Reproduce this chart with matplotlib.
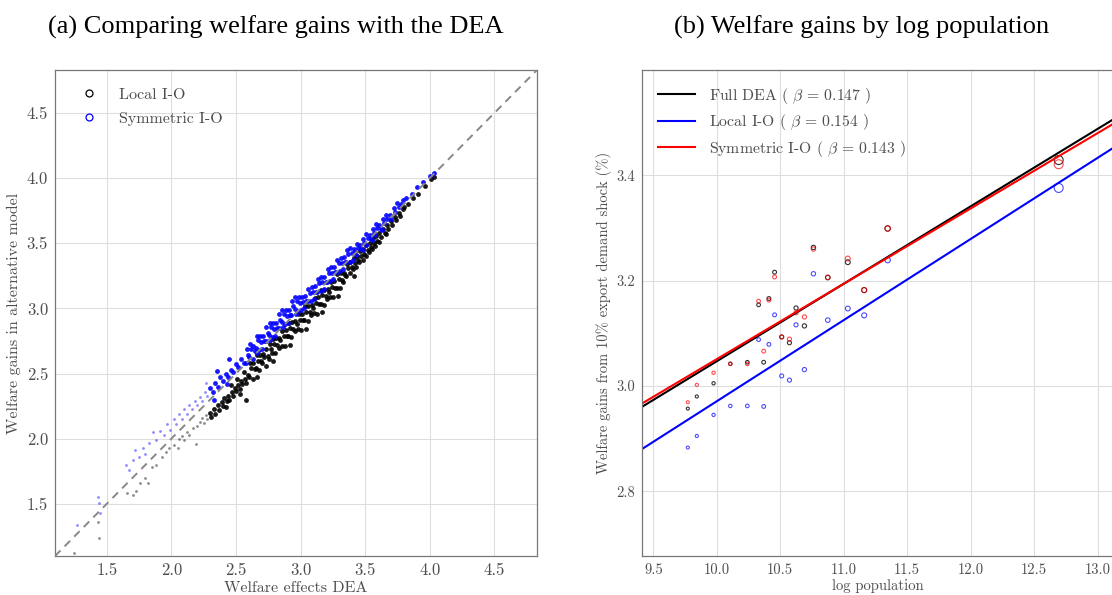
import matplotlib
matplotlib.use('Agg')
import matplotlib.pyplot as plt
import numpy as np
from matplotlib.lines import Line2D

# ---- data: panel (a), welfare gains per location (DEA vs alternative model)
local_pts = [
    (1.25, 1.12), (1.43, 1.36), (1.44, 1.24), (1.66, 1.58), (1.70, 1.57), (1.73, 1.60),
    (1.76, 1.66), (1.80, 1.70), (1.82, 1.66), (1.85, 1.78), (1.88, 1.80), (1.93, 1.86),
    (1.96, 1.90), (1.98, 1.93), (2.02, 1.95), (2.05, 1.93), (2.06, 2.00), (2.08, 2.02),
    (2.10, 1.99), (2.12, 2.05), (2.14, 2.03), (2.17, 2.08), (2.19, 1.96), (2.20, 2.10),
    (2.22, 2.13), (2.24, 2.16), (2.25, 2.12), (2.27, 2.18), (2.28, 2.15), (2.30, 2.20),
    (2.31, 2.17), (2.33, 2.23), (2.34, 2.19), (2.36, 2.26), (2.37, 2.22), (2.39, 2.28),
    (2.40, 2.25), (2.41, 2.31), (2.43, 2.29), (2.44, 2.33), (2.45, 2.30), (2.47, 2.36),
    (2.48, 2.33), (2.49, 2.39), (2.50, 2.37), (2.52, 2.41), (2.53, 2.38), (2.54, 2.44),
    (2.55, 2.42), (2.57, 2.46), (2.58, 2.43), (2.59, 2.49), (2.46, 2.41), (2.51, 2.46),
    (2.56, 2.51), (2.53, 2.34), (2.42, 2.24), (2.58, 2.30),
    (2.61, 2.58), (2.62, 2.54), (2.605, 2.47),
    (2.635, 2.585), (2.645, 2.535), (2.63, 2.46),
    (2.66, 2.64), (2.67, 2.60), (2.655, 2.54), (2.665, 2.47),
    (2.685, 2.645), (2.695, 2.595), (2.68, 2.53),
    (2.71, 2.65), (2.72, 2.63), (2.705, 2.58),
    (2.735, 2.685), (2.745, 2.635), (2.73, 2.56),
    (2.76, 2.73), (2.77, 2.69), (2.755, 2.615),
    (2.785, 2.765), (2.795, 2.725), (2.78, 2.66), (2.79, 2.60),
    (2.81, 2.77), (2.82, 2.72), (2.805, 2.655),
    (2.835, 2.775), (2.845, 2.755), (2.83, 2.70),
    (2.86, 2.83), (2.87, 2.79), (2.855, 2.715),
    (2.885, 2.835), (2.895, 2.785), (2.88, 2.71),
    (2.91, 2.89), (2.92, 2.85), (2.905, 2.785), (2.915, 2.72),
    (2.935, 2.895), (2.945, 2.845), (2.93, 2.78),
    (2.96, 2.90), (2.97, 2.88), (2.955, 2.825),
    (2.985, 2.955), (2.995, 2.915), (2.98, 2.84),
    (3.01, 2.96), (3.02, 2.91), (3.005, 2.835),
    (3.035, 3.015), (3.045, 2.975), (3.03, 2.91), (3.04, 2.845),
    (3.06, 3.02), (3.07, 2.97), (3.055, 2.905),
    (3.085, 3.025), (3.095, 3.005), (3.08, 2.95),
    (3.11, 3.08), (3.12, 3.04), (3.105, 2.965),
    (3.135, 3.085), (3.145, 3.035), (3.13, 2.96),
    (3.16, 3.14), (3.17, 3.10), (3.155, 3.035), (3.165, 2.97),
    (3.185, 3.145), (3.195, 3.095), (3.18, 3.03),
    (3.21, 3.15), (3.22, 3.13), (3.205, 3.075),
    (3.235, 3.205), (3.245, 3.165), (3.23, 3.09),
    (3.26, 3.21), (3.27, 3.16), (3.255, 3.085),
    (3.285, 3.265), (3.295, 3.225), (3.28, 3.16), (3.29, 3.095),
    (3.31, 3.27), (3.32, 3.22), (3.305, 3.155),
    (3.335, 3.275), (3.345, 3.255), (3.33, 3.20),
    (3.36, 3.34), (3.37, 3.31), (3.355, 3.25),
    (3.385, 3.355), (3.395, 3.32), (3.38, 3.27),
    (3.41, 3.39), (3.42, 3.35), (3.405, 3.30), (3.415, 3.25),
    (3.435, 3.40), (3.445, 3.37), (3.43, 3.32),
    (3.46, 3.44), (3.47, 3.40), (3.455, 3.36),
    (3.485, 3.455), (3.495, 3.42), (3.48, 3.37),
    (3.51, 3.49), (3.52, 3.45), (3.505, 3.40),
    (3.535, 3.505), (3.545, 3.47), (3.53, 3.43),
    (3.56, 3.54), (3.57, 3.50), (3.555, 3.46),
    (3.585, 3.555), (3.595, 3.52), (3.58, 3.48),
    (3.61, 3.58), (3.62, 3.55), (3.605, 3.51),
    (3.64, 3.61), (3.65, 3.58),
    (3.67, 3.64), (3.68, 3.61), (3.665, 3.57),
    (3.70, 3.67), (3.71, 3.64), (3.73, 3.70), (3.74, 3.68),
    (3.76, 3.73), (3.77, 3.71), (3.79, 3.76), (3.80, 3.78),
    (3.83, 3.80), (3.87, 3.85), (3.91, 3.88), (3.96, 3.94),
    (4.01, 3.99), (4.03, 4.01),
]

sym_pts = [
    (1.27, 1.34), (1.43, 1.55), (1.44, 1.51), (1.45, 1.43), (1.65, 1.80), (1.67, 1.76),
    (1.70, 1.84), (1.72, 1.91), (1.75, 1.86), (1.78, 1.93), (1.80, 1.88), (1.83, 1.97),
    (1.86, 2.05), (1.88, 1.99), (1.91, 2.06), (1.94, 2.03), (1.97, 2.11), (1.99, 2.07),
    (2.02, 2.15), (2.04, 2.11), (2.06, 2.19), (2.08, 2.15), (2.10, 2.23), (2.12, 2.19),
    (2.14, 2.26), (2.16, 2.23), (2.18, 2.29), (2.20, 2.26), (2.22, 2.32), (2.24, 2.29),
    (2.26, 2.36), (2.28, 2.33), (2.30, 2.39), (2.32, 2.36), (2.34, 2.43), (2.36, 2.40),
    (2.38, 2.47), (2.40, 2.44), (2.42, 2.50), (2.44, 2.47), (2.46, 2.53), (2.48, 2.51),
    (2.50, 2.57), (2.52, 2.55), (2.54, 2.61), (2.56, 2.58), (2.27, 2.43), (2.35, 2.52),
    (2.45, 2.61), (2.33, 2.30), (2.43, 2.42),
    (2.585, 2.685), (2.595, 2.645), (2.58, 2.58),
    (2.61, 2.73), (2.62, 2.69), (2.605, 2.625),
    (2.635, 2.715), (2.645, 2.675), (2.63, 2.61),
    (2.66, 2.79), (2.67, 2.76), (2.655, 2.695), (2.665, 2.655),
    (2.685, 2.785), (2.695, 2.745), (2.68, 2.68),
    (2.71, 2.79), (2.72, 2.75), (2.705, 2.685),
    (2.735, 2.855), (2.745, 2.815), (2.73, 2.75),
    (2.76, 2.89), (2.77, 2.86), (2.755, 2.795), (2.765, 2.755),
    (2.785, 2.885), (2.795, 2.845), (2.78, 2.78),
    (2.81, 2.89), (2.82, 2.85), (2.805, 2.785),
    (2.835, 2.955), (2.845, 2.915), (2.83, 2.85),
    (2.86, 2.99), (2.87, 2.96), (2.855, 2.895), (2.865, 2.855),
    (2.885, 2.985), (2.895, 2.945), (2.88, 2.88),
    (2.91, 2.99), (2.92, 2.95), (2.905, 2.885),
    (2.935, 3.055), (2.945, 3.015), (2.93, 2.95),
    (2.96, 3.09), (2.97, 3.06), (2.955, 2.995), (2.965, 2.955),
    (2.985, 3.085), (2.995, 3.045), (2.98, 2.98),
    (3.01, 3.09), (3.02, 3.05), (3.005, 2.985),
    (3.035, 3.095), (3.045, 3.055), (3.03, 3.00),
    (3.06, 3.15), (3.07, 3.12), (3.055, 3.055),
    (3.085, 3.165), (3.095, 3.125), (3.08, 3.06),
    (3.11, 3.17), (3.12, 3.13), (3.105, 3.075),
    (3.135, 3.225), (3.145, 3.195), (3.13, 3.13),
    (3.16, 3.24), (3.17, 3.20), (3.155, 3.135),
    (3.185, 3.245), (3.195, 3.205), (3.18, 3.15),
    (3.21, 3.30), (3.22, 3.27), (3.205, 3.205),
    (3.235, 3.315), (3.245, 3.275), (3.23, 3.21),
    (3.26, 3.32), (3.27, 3.28), (3.255, 3.225),
    (3.285, 3.375), (3.295, 3.345), (3.28, 3.28),
    (3.31, 3.39), (3.32, 3.35), (3.305, 3.285),
    (3.335, 3.395), (3.345, 3.355), (3.33, 3.30),
    (3.36, 3.45), (3.37, 3.42), (3.355, 3.355),
    (3.385, 3.465), (3.395, 3.425), (3.38, 3.36),
    (3.41, 3.46), (3.42, 3.43), (3.405, 3.375),
    (3.435, 3.495), (3.445, 3.465), (3.43, 3.41),
    (3.46, 3.49), (3.47, 3.46),
    (3.485, 3.535), (3.495, 3.505), (3.48, 3.45),
    (3.51, 3.57), (3.52, 3.54), (3.505, 3.485),
    (3.535, 3.565), (3.545, 3.535),
    (3.56, 3.61), (3.57, 3.58), (3.555, 3.525),
    (3.585, 3.645), (3.595, 3.615), (3.58, 3.56),
    (3.61, 3.64), (3.62, 3.61),
    (3.635, 3.685), (3.645, 3.655), (3.63, 3.60),
    (3.66, 3.72), (3.67, 3.69), (3.69, 3.72), (3.70, 3.69),
    (3.72, 3.77), (3.73, 3.74), (3.75, 3.81), (3.76, 3.78),
    (3.78, 3.80), (3.79, 3.83), (3.82, 3.85), (3.86, 3.88),
    (3.90, 3.93), (3.95, 3.97), (4.00, 4.02), (4.03, 4.04),
]

# ---- data: panel (b), welfare gains by log population (one point per city)
log_pop = [9.771, 9.842, 9.974, 10.106, 10.24, 10.369, 10.329, 10.41, 10.455, 10.511,
           10.572, 10.624, 10.69, 10.761, 10.874, 11.032, 11.161, 11.346, 12.694]
gain_dea = [2.957, 2.980, 3.005, 3.042, 3.045, 3.045, 3.154, 3.166, 3.216, 3.093,
            3.082, 3.148, 3.114, 3.263, 3.206, 3.235, 3.182, 3.299, 3.429]
gain_local = [2.883, 2.905, 2.945, 2.962, 2.962, 2.961, 3.088, 3.079, 3.135, 3.019,
              3.011, 3.116, 3.031, 3.213, 3.125, 3.147, 3.134, 3.239, 3.376]
gain_sym = [2.969, 3.002, 3.025, 3.042, 3.042, 3.066, 3.161, 3.163, 3.207, 3.093,
            3.089, 3.139, 3.131, 3.260, 3.206, 3.242, 3.182, 3.299, 3.421]

model_names = ['Full DEA', 'Local I-O', 'Symmetric I-O']
betas = [0.147, 0.154, 0.143]
intercepts = [1.577, 1.431, 1.621]

plt.rcParams['font.family'] = 'cmr10'
plt.rcParams['mathtext.fontset'] = 'cm'
plt.rcParams['axes.unicode_minus'] = False

GRAY_TXT = '#4d4d4d'
GRID = '#dedede'

fig = plt.figure(figsize=(11.12, 5.95), dpi=100)
ax1 = fig.add_axes([55 / 1112, 39 / 595, 482 / 1112, 486 / 595])
ax2 = fig.add_axes([642 / 1112, 39 / 595, 472 / 1112, 486 / 595])

for ax in (ax1, ax2):
    ax.grid(True, color=GRID, lw=0.8)
    ax.set_axisbelow(True)
    ax.tick_params(length=0, colors=GRAY_TXT, pad=5)
    for sp in ax.spines.values():
        sp.set_color('#777777')
        sp.set_linewidth(0.9)


def cloud(ax, pts, color):
    x, y = (np.array(v) for v in zip(*pts))
    sparse = x < 2.3
    # thin outer tail drawn faint, dense core drawn solid
    ax.scatter(x[sparse], y[sparse], s=4, color=color, linewidths=0, alpha=0.45)
    ax.scatter(x[~sparse], y[~sparse], s=12, color=color, linewidths=0, alpha=0.9)


# ---- panel (a)
cloud(ax1, local_pts, 'black')
cloud(ax1, sym_pts, 'blue')
lim = (1.10, 4.83)
ax1.plot(lim, lim, ls=(0, (4, 3)), color='#888888', lw=1.4, zorder=5)
ax1.set_xlim(lim)
ax1.set_ylim(lim)
ticks = [1.5, 2.0, 2.5, 3.0, 3.5, 4.0, 4.5]
ax1.set_xticks(ticks)
ax1.set_yticks(ticks)
ax1.set_xticklabels([f'{t:.1f}' for t in ticks], fontsize=12)
ax1.set_yticklabels([f'{t:.1f}' for t in ticks], fontsize=12)
ax1.set_xlabel('Welfare effects DEA', fontsize=11.5, color=GRAY_TXT, labelpad=2)
ax1.set_ylabel('Welfare gains in alternative model', fontsize=11.5, color=GRAY_TXT, labelpad=4)
handles = [Line2D([], [], ls='none', marker='o', mfc='none', mec=c, ms=5, mew=0.9)
           for c in ('black', 'blue')]
ax1.legend(handles, ['Local I-O', 'Symmetric I-O'], loc='upper left', frameon=False,
           fontsize=11.5, labelcolor=GRAY_TXT, handletextpad=0.9, borderaxespad=0.7,
           labelspacing=0.6)

# ---- panel (b)
pop = np.array(log_pop)
msize = (0.72 * 3.0 * np.exp(0.375 * (pop - 9.77))) ** 2
ax2.scatter(log_pop, gain_dea, s=msize, facecolors='none', edgecolors='black', linewidths=0.8, alpha=0.8)
ax2.scatter(log_pop, gain_local, s=msize, facecolors='none', edgecolors='blue', linewidths=0.8, alpha=0.7)
ax2.scatter(log_pop, gain_sym, s=msize, facecolors='none', edgecolors='red', linewidths=0.8, alpha=0.7)
xs = np.array([9.3, 13.3])
for name, b, a, c in zip(model_names, betas, intercepts, ('black', 'blue', 'red')):
    ax2.plot(xs, a + b * xs, color=c, lw=1.5,
             label=f'{name} ( $\\beta\\,=\\,{b:.3f}$ )')
ax2.set_xlim(9.41, 13.13)
ax2.set_ylim(2.677, 3.600)
xt = [9.5, 10.0, 10.5, 11.0, 11.5, 12.0, 12.5, 13.0]
yt = [2.8, 3.0, 3.2, 3.4]
ax2.set_xticks(xt)
ax2.set_yticks(yt)
ax2.set_xticklabels([f'{t:.1f}' for t in xt], fontsize=10.5)
ax2.set_yticklabels([f'{t:.1f}' for t in yt], fontsize=10.5)
ax2.spines['right'].set_visible(False)
ax2.set_xlabel('log population', fontsize=10.5, color=GRAY_TXT, labelpad=2)
ax2.set_ylabel('Welfare gains from 10% export demand shock (%)', fontsize=10.5,
               color=GRAY_TXT, labelpad=3)
ax2.legend(loc='upper left', frameon=False, fontsize=11.3, labelcolor=GRAY_TXT,
           handlelength=2.4, handletextpad=0.9, borderaxespad=0.6, labelspacing=0.42)

# ---- titles
fig.text(276 / 1112, 1 - 27 / 595, '(a) Comparing welfare gains with the DEA',
         family='Liberation Serif', fontsize=19, ha='center', va='center')
fig.text(862 / 1112, 1 - 27 / 595, '(b) Welfare gains by log population',
         family='Liberation Serif', fontsize=19, ha='center', va='center')

fig.savefig('out.png', dpi=100)
